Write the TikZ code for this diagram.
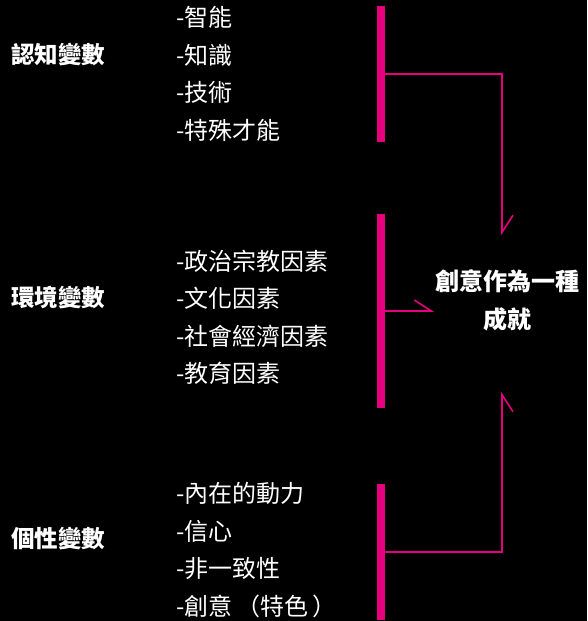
\documentclass[tikz,border=0pt]{standalone}
\usepackage{fontspec}
\setmainfont{Noto Sans CJK TC}
\usepackage{xcolor}
\usetikzlibrary{positioning,arrows.meta}
\definecolor{barcolor}{RGB}{230, 0, 126}
\definecolor{bgcolor}{RGB}{0, 0, 0}
\tikzset{
    factor bar/.style={rectangle, fill=barcolor, draw=none, minimum width=8pt, inner sep=0pt},
    group label/.style={anchor=west, text=white, font=\fontsize{23.5}{26}\selectfont\bfseries, inner sep=0pt},
    item list/.style={anchor=west, align=left, text=white, font=\fontsize{24}{37.5}\selectfont, inner sep=0pt},
    outcome/.style={align=center, text=white, font=\fontsize{24}{38}\selectfont\bfseries, inner sep=0pt},
    link down/.style={barcolor, line width=1.6pt, -{Straight Barb[left, length=17pt, width=22pt]}},
    link up/.style={barcolor, line width=1.6pt, -{Straight Barb[right, length=17pt, width=22pt]}}
}
\begin{document}
\begin{tikzpicture}[x=1pt, y=-1pt]
    % Background
    \fill[bgcolor] (0,0) rectangle (587,621);
    \useasboundingbox (0,0) rectangle (587,621);

    % Cognitive variables
    \node[group label] (cog) at (11,54) {認知變數};
    \node[item list] (cogitems) at (176,74) {-智能\\-知識\\-技術\\-特殊才能};
    \node[factor bar, minimum height=136pt] (cogbar) at (381,74) {};

    % Environmental variables
    \node[group label] (env) at (11,297) {環境變數};
    \node[item list] (envitems) at (176,317.5) {-政治宗教因素\\-文化因素\\-社會經濟因素\\-教育因素};
    \node[factor bar, minimum height=194pt] (envbar) at (381,311) {};

    % Personality variables
    \node[group label] (per) at (11,538) {個性變數};
    \node[item list] (peritems) at (176,550) {-內在的動力\\-信心\\-非一致性\\-創意\,（特色\,）};
    \node[factor bar, minimum height=136pt] (perbar) at (381,552) {};

    % Outcome
    \node[outcome] (result) at (507,300) {創意作為一種\\成就};

    % Arrow ends
    \coordinate (cogend) at (502,235);
    \coordinate (envend) at (434,311);
    \coordinate (perend) at (502,392);

    % Connectors
    \draw[link down] (cogbar.east) -| (cogend);
    \draw[link down] (envbar.east) -- (envend);
    \draw[link up] (perbar.east) -| (perend);
\end{tikzpicture}
\end{document}
